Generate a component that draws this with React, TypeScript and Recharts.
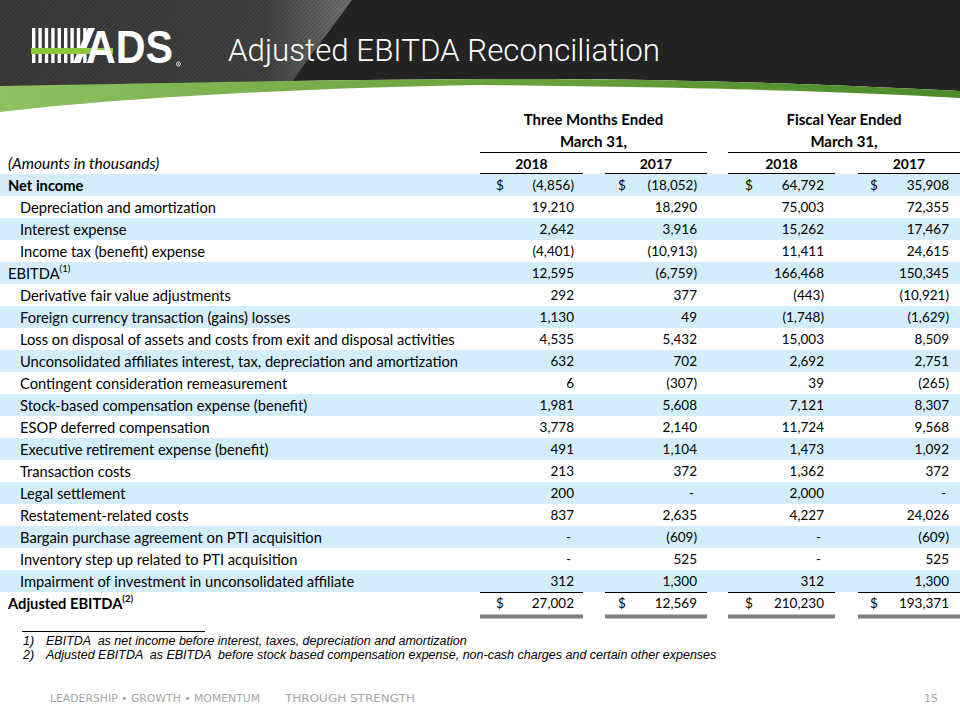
import React from 'react';
import { BarChart, Bar, XAxis, YAxis, Customized } from 'recharts';

// ---------- DATA ----------
const rowLabels = [
  'Net income',
  'Depreciation and amortization',
  'Interest expense',
  'Income tax (benefit) expense',
  'EBITDA',
  'Derivative fair value adjustments',
  'Foreign currency transaction (gains) losses',
  'Loss on disposal of assets and costs from exit and disposal activities',
  'Unconsolidated affiliates interest, tax, depreciation and amortization',
  'Contingent consideration remeasurement',
  'Stock-based compensation expense (benefit)',
  'ESOP deferred compensation',
  'Executive retirement expense (benefit)',
  'Transaction costs',
  'Legal settlement',
  'Restatement-related costs',
  'Bargain purchase agreement on PTI acquisition',
  'Inventory step up related to PTI acquisition',
  'Impairment of investment in unconsolidated affiliate',
  'Adjusted EBITDA',
];

const threeMonths2018 = [-4856, 19210, 2642, -4401, 12595, 292, 1130, 4535, 632, 6, 1981, 3778, 491, 213, 200, 837, null, null, 312, 27002];
const threeMonths2017 = [-18052, 18290, 3916, -10913, -6759, 377, 49, 5432, 702, -307, 5608, 2140, 1104, 372, null, 2635, -609, 525, 1300, 12569];
const fiscalYear2018 = [64792, 75003, 15262, 11411, 166468, -443, -1748, 15003, 2692, 39, 7121, 11724, 1473, 1362, 2000, 4227, null, null, 312, 210230];
const fiscalYear2017 = [35908, 72355, 17467, 24615, 150345, -10921, -1629, 8509, 2751, -265, 8307, 9568, 1092, 372, null, 24026, -609, 525, 1300, 193371];

const footnoteRefs: Record<string, string> = { 'EBITDA': '(1)', 'Adjusted EBITDA': '(2)' };
const boldRows = ['Net income', 'Adjusted EBITDA'];
const flushRows = ['Net income', 'EBITDA', 'Adjusted EBITDA'];
const dollarRows = ['Net income', 'Adjusted EBITDA'];
const subtotalRuleRows = ['Income tax (benefit) expense', 'Impairment of investment in unconsolidated affiliate'];
const totalRuleRows = ['Adjusted EBITDA'];

const groupHeaders = ['Three Months Ended', 'Fiscal Year Ended'];
const groupSubHeader = 'March 31,';
const yearHeaders = ['2018', '2017', '2018', '2017'];
const unitsNote = '(Amounts in thousands)';
const slideTitle = 'Adjusted EBITDA Reconciliation';
const logoText = 'ADS';
const footnotes = [
  'EBITDA  as net income before interest, taxes, depreciation and amortization',
  'Adjusted EBITDA  as EBITDA  before stock based compensation expense, non-cash charges and certain other expenses',
];
const footerLeft = 'LEADERSHIP \u2022 GROWTH \u2022 MOMENTUM';
const footerRight = 'THROUGH STRENGTH';
const pageNumber = '15';

const columns = [threeMonths2018, threeMonths2017, fiscalYear2018, fiscalYear2017];

const tableData = rowLabels.map((label, i) => ({
  label,
  span: 1,
  c0: threeMonths2018[i],
  c1: threeMonths2017[i],
  c2: fiscalYear2018[i],
  c3: fiscalYear2017[i],
}));

// ---------- LAYOUT / STYLE ----------
const W = 960;
const H = 720;
const TABLE_TOP = 174;
const ROW_H = 22;
const TABLE_BOTTOM = H - TABLE_TOP - ROW_H * rowLabels.length;
const FONT = 'Lato, "Noto Sans", sans-serif';
const FS_NUM = 13.5;
const FS_LABEL = 14.7;
const FS_HEAD = 15;
const SHADE = '#D3EEFA';
const COL_SEG: [number, number][] = [[480, 583], [605, 707], [728, 835], [858, 960]];
const COL_RIGHT = [574, 697, 824, 949];
const DOLLAR_X = [496, 618, 745, 870];

const fmt = (v: number | null | undefined) => {
  if (v === null || v === undefined) return '-';
  const s = Math.abs(v).toLocaleString('en-US');
  return v < 0 ? `(${s})` : s;
};

const RowShape = (props: any) => {
  const { x, y, width, height, index } = props;
  const label: string = rowLabels[index];
  const shaded = index % 2 === 0;
  const cy = y + height / 2;
  const bottom = y + height;
  const ref = footnoteRefs[label];
  return (
    <g>
      {shaded && <rect x={x} y={y} width={width} height={height} fill={SHADE} />}
      <text
        x={flushRows.includes(label) ? 8 : 20}
        y={cy}
        dominantBaseline="central"
        fontFamily={FONT}
        fontSize={FS_LABEL}
        fontWeight={boldRows.includes(label) ? 700 : 400}
        fill="#000"
      >
        {label}
        {ref && (
          <tspan dy={-5} fontSize={9.5}>
            {ref}
          </tspan>
        )}
      </text>
      {columns.map((col, ci) => {
        const v = col[index];
        return (
          <g key={ci}>
            {dollarRows.includes(label) && (
              <text x={DOLLAR_X[ci]} y={cy} dominantBaseline="central" fontFamily={FONT} fontSize={FS_NUM} fill="#000">$</text>
            )}
            <text
              x={v === null ? COL_RIGHT[ci] - 3 : COL_RIGHT[ci]}
              y={cy}
              textAnchor="end"
              dominantBaseline="central"
              fontFamily={FONT}
              fontSize={FS_NUM}
              fill="#000"
            >
              {fmt(v)}
            </text>
            {subtotalRuleRows.includes(label) && (
              <line x1={COL_SEG[ci][0]} x2={COL_SEG[ci][1]} y1={bottom + 0.5} y2={bottom + 0.5} stroke="#000" strokeWidth={1} />
            )}
            {totalRuleRows.includes(label) && (
              <line x1={COL_SEG[ci][0]} x2={COL_SEG[ci][1]} y1={bottom + 2.5} y2={bottom + 2.5} stroke="#7f7f7f" strokeWidth={4} />
            )}
          </g>
        );
      })}
    </g>
  );
};

const SlideDecor = () => (
  <g>
    <defs>
      <linearGradient id="greenBand" x1="0" y1="0" x2="1" y2="0">
        <stop offset="0" stopColor="#8fc161" />
        <stop offset="0.45" stopColor="#6fa640" />
        <stop offset="1" stopColor="#4d8a2a" />
      </linearGradient>
      <linearGradient id="texGrad" x1="0" y1="0" x2="1" y2="0">
        <stop offset="0" stopColor="#3a3a3a" />
        <stop offset="0.75" stopColor="#424242" />
        <stop offset="1" stopColor="#737373" />
      </linearGradient>
      <pattern id="diagHatch" width="3" height="3" patternUnits="userSpaceOnUse" patternTransform="rotate(45)">
        <line x1="0" y1="0" x2="0" y2="3" stroke="#000" strokeOpacity="0.3" strokeWidth="1.2" />
      </pattern>
    </defs>
    {/* dark header band */}
    <path d="M0,0 H960 V91 C860,86 700,78 480,79 C300,80 120,84 0,87 Z" fill="#232323" />
    {/* textured left region */}
    <path d="M0,0 H352 C332,28 308,58 292,82 C200,83 100,85 0,87 Z" fill="url(#texGrad)" />
    <path d="M0,0 H352 C332,28 308,58 292,82 C200,83 100,85 0,87 Z" fill="url(#diagHatch)" />
    {/* green swoosh */}
    <path
      d="M0,86 C120,84 300,80 480,79 C700,78 860,86 960,91 L960,98 C860,92 700,87 480,85 C300,88 120,98 0,112 Z"
      fill="url(#greenBand)"
    />
    {/* logo */}
    <g>
      {[0, 1, 2, 3, 4, 5, 6, 7, 8].map((k) => (
        <rect key={k} x={32 + k * 6.4} y={28} width={3.4} height={35} fill="#fff" />
      ))}
      <path d="M88,28 L95,28 L80,63 L73,63 Z" fill="#fff" />
      <rect x={31} y={48} width={82} height={6} fill="#8dc63f" />
      <text x={86} y={63} fill="#fff" fontFamily='"Liberation Sans", Arial, sans-serif' fontWeight={700} fontSize={47} textLength={87} lengthAdjust="spacingAndGlyphs">{logoText}</text>
      {/* registered mark drawn as a small ring */}
      <circle cx={178.5} cy={64} r={2} fill="none" stroke="#fff" strokeWidth={0.8} />
      <circle cx={178.5} cy={64} r={0.7} fill="#fff" />
    </g>
    {/* title */}
    <text x={228} y={61} fill="#fff" fontFamily='Roboto, "Liberation Sans", sans-serif' fontWeight={300} fontSize={32} textLength={432} lengthAdjust="spacingAndGlyphs">
      {slideTitle}
    </text>

    {/* column headers */}
    {groupHeaders.map((g, gi) => {
      const left = COL_SEG[gi * 2][0];
      const right = COL_SEG[gi * 2 + 1][1];
      const cx = (left + right) / 2;
      return (
        <g key={g}>
          <text x={cx} y={119} textAnchor="middle" dominantBaseline="central" fontFamily={FONT} fontSize={FS_HEAD} fontWeight={700} fill="#000">{g}</text>
          <text x={cx} y={141} textAnchor="middle" dominantBaseline="central" fontFamily={FONT} fontSize={FS_HEAD} fontWeight={700} fill="#000">{groupSubHeader}</text>
          <line x1={left} x2={right} y1={152.5} y2={152.5} stroke="#000" strokeWidth={1} />
        </g>
      );
    })}
    {yearHeaders.map((yr, ci) => {
      const [l, r] = COL_SEG[ci];
      return (
        <g key={ci}>
          <text x={(l + r) / 2} y={163} textAnchor="middle" dominantBaseline="central" fontFamily={FONT} fontSize={14} fontWeight={700} fill="#000">{yr}</text>
          <line x1={l} x2={r} y1={173.5} y2={173.5} stroke="#000" strokeWidth={1} />
        </g>
      );
    })}
    <text x={8} y={163} dominantBaseline="central" fontFamily={FONT} fontSize={15.5} fontStyle="italic" fill="#000">{unitsNote}</text>

    {/* footnotes */}
    <line x1={22} x2={205} y1={631.5} y2={631.5} stroke="#000" strokeWidth={1} />
    {footnotes.map((f, i) => (
      <g key={i}>
        <text x={23} y={645 + i * 14} fontFamily='"Liberation Sans", Arial, sans-serif' fontSize={12.5} fontStyle="italic" fill="#000">{`${i + 1})`}</text>
        <text x={46} y={645 + i * 14} fontFamily='"Liberation Sans", Arial, sans-serif' fontSize={12.5} fontStyle="italic" fill="#000" style={{ whiteSpace: 'pre' }}>{f}</text>
      </g>
    ))}

    {/* footer */}
    <text x={50} y={702} fontFamily='"DejaVu Sans", Verdana, sans-serif' fontSize={10} fill="#a6a6a6" textLength={210} lengthAdjust="spacingAndGlyphs">{footerLeft}</text>
    <text x={285} y={702} fontFamily='"DejaVu Sans", Verdana, sans-serif' fontSize={11} fill="#a6a6a6" textLength={130} lengthAdjust="spacingAndGlyphs">{footerRight}</text>
    <text x={938} y={702} textAnchor="end" fontFamily='"DejaVu Sans", Verdana, sans-serif' fontSize={11} fill="#a6a6a6">{pageNumber}</text>
  </g>
);

export default function App() {
  return (
    <div style={{ position: 'absolute', left: 0, top: 0, width: W, height: H, background: '#fff' }}>
      <BarChart
        width={W}
        height={H}
        data={tableData}
        layout="vertical"
        margin={{ top: TABLE_TOP, right: 0, bottom: TABLE_BOTTOM, left: 0 }}
        barCategoryGap={0}
        barGap={0}
      >
        <Customized component={SlideDecor} />
        <XAxis type="number" domain={[0, 1]} hide />
        <YAxis type="category" dataKey="label" hide />
        <Bar dataKey="span" shape={RowShape} isAnimationActive={false} />
      </BarChart>
    </div>
  );
}
